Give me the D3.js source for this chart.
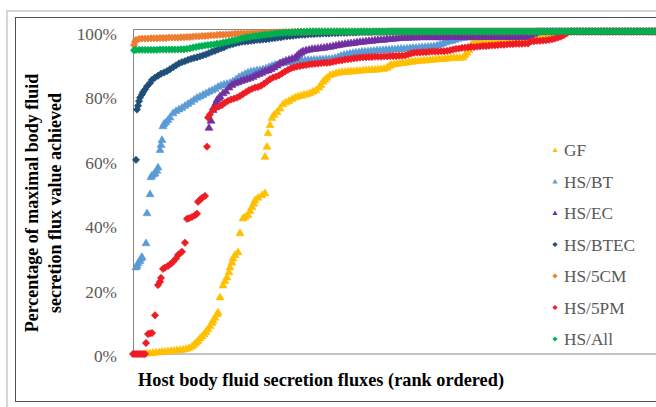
<!DOCTYPE html>
<html><head><meta charset="utf-8">
<script src="https://cdn.jsdelivr.net/npm/d3@7"></script>
<style>html,body{margin:0;padding:0;background:#fff;} svg{display:block;}</style>
</head><body><svg id="c" width="656" height="407"></svg>
<script>
const seriesNames = ["GF","HS/BT","HS/EC","HS/BTEC","HS/5CM","HS/5PM","HS/All"];
const seriesColors = ["#FFC000","#5B9BD5","#7030A0","#1F4E79","#ED7D31","#EE1C25","#00B050"];
const seriesShapes = ["triangle","triangle","triangle","diamond","diamond","diamond","diamond"];
const yTicks = [0,20,40,60,80,100];
const yTitle = ["Percentage of maximal body fluid","secretion flux value achieved"];
const xTitle = "Host body fluid secretion fluxes (rank ordered)";

// [rank, percent]
const gfPts = [[14,0.3],[17,0.4],[20,0.5],[23,0.6],[26,0.7],[29,0.8],[32,0.9],[35,1.0],[38,1.1],[41,1.2],[44,1.3],[47,1.4],[50,1.5],[53,1.7],[56,2.0],[59,2.5],[61,3.0],[63,3.6],[65,4.2],[67,5.0],[69,5.6],[71,6.3],[73,7.0],[75,7.8],[77,8.8],[79,9.8],[80,10.5],[82,11.4],[84,12.5],[85,13.0],[87,17.7],[90,21.4],[92,22.8],[94,23.9],[96,25.5],[97,27.0],[99,28.5],[100,29.8],[102,30.8],[105,31.7],[107,37.6],[110,42.2],[112,42.6],[115,43.2],[117,44.5],[119,45.7],[121,46.8],[122,47.8],[125,48.6],[129,49.4],[132,50.0],[132,61.3],[134,64.4],[135,68.6],[137,71.1],[139,73.3],[141,74.3],[144,75.2],[147,76.3],[150,77.6],[153,78.2],[156,78.6],[159,79.2],[162,79.7],[165,80.0],[168,80.2],[171,80.5],[174,80.7],[177,81.0],[180,81.5],[183,81.9],[186,82.8],[188,83.6],[190,84.6],[192,85.2],[194,85.8],[197,86.6],[200,86.9],[203,87.2],[206,87.4],[209,87.6],[212,87.6],[215,87.7],[218,87.8],[221,87.8],[224,88.0],[227,88.0],[230,88.1],[233,88.2],[236,88.2],[239,88.3],[242,88.3],[245,88.4],[248,88.5],[251,88.6],[254,88.9],[256,89.4],[258,89.8],[261,90.0],[264,90.1],[267,90.3],[270,90.4],[273,90.5],[276,90.7],[279,90.8],[282,90.9],[285,91.0],[288,91.1],[291,91.2],[294,91.2],[297,91.3],[300,91.4],[303,91.5],[306,91.6],[309,91.6],[312,91.7],[315,91.8],[318,91.9],[321,92.0],[324,92.0],[327,92.0],[330,92.1],[332,92.8],[334,93.6],[336,94.4],[338,95.8],[340,96.7],[343,97.0],[346,97.1],[349,97.2],[352,97.3],[355,97.3],[358,97.4],[361,97.4],[364,97.4],[367,97.5],[370,97.5],[373,97.5],[376,97.5],[379,97.5],[382,97.6],[385,97.6],[388,97.6],[391,97.6],[394,97.7],[397,97.8],[400,98.1],[403,98.2],[406,98.3],[409,98.4],[412,98.5],[415,98.7],[418,99.0],[421,99.3],[424,99.7],[427,100],[429,100],[432,100],[435,100],[438,100],[441,100],[444,100],[447,100],[450,100],[453,100],[456,100],[459,100],[462,100],[465,100],[468,100],[471,100],[474,100],[477,100],[480,100],[483,100],[486,100],[489,100],[492,100],[495,100],[498,100],[501,100],[504,100],[507,100],[510,100],[513,100],[516,100],[519,100],[522,100],[525,100]];

const btPts = [[3,27.0],[4,27.5],[5,28.3],[7,29.0],[8,29.8],[9,30.2],[13,34.5],[14,43.8],[17,49.7],[18,55.0],[19,55.5],[21,56.0],[22,56.2],[24,57.0],[25,58.0],[27,63.4],[28,65.0],[29,66.5],[30,70.8],[31,71.5],[33,72.0],[35,72.7],[37,73.5],[40,74.8],[43,75.5],[46,76.0],[49,76.5],[52,77.1],[55,77.7],[58,78.3],[61,79.0],[64,79.6],[67,80.0],[70,80.5],[73,81.0],[76,81.5],[79,81.9],[82,82.4],[85,83.0],[88,83.4],[91,83.7],[94,83.9],[97,84.2],[100,84.7],[103,85.3],[106,86.0],[109,86.5],[112,87.0],[115,87.4],[118,87.7],[121,87.9],[124,88.1],[127,88.2],[130,88.4],[133,88.7],[136,89.1],[139,89.5],[142,89.8],[145,90.0],[148,90.3],[151,90.5],[154,90.6],[157,90.7],[160,90.8],[163,90.9],[166,91.0],[169,91.1],[172,91.2],[175,91.3],[178,91.3],[181,91.4],[184,91.4],[187,91.5],[190,91.5],[193,91.6],[196,91.6],[199,91.7],[202,91.9],[205,92.2],[208,92.6],[211,92.9],[214,93.1],[217,93.3],[220,93.5],[223,93.6],[226,93.7],[229,93.9],[232,93.9],[235,94.0],[238,94.1],[241,94.2],[244,94.3],[247,94.3],[250,94.4],[253,94.5],[256,94.5],[259,94.6],[262,94.6],[265,94.7],[268,94.8],[271,94.8],[274,94.9],[277,95.0],[280,95.1],[283,95.1],[286,95.2],[289,95.3],[292,95.3],[295,95.4],[298,95.5],[301,95.6],[304,95.8],[307,96.1],[310,96.4],[313,96.8],[316,97.1],[319,97.3],[322,97.6],[325,97.9],[328,98.1],[331,98.2],[334,98.3],[337,98.4],[340,98.4],[343,98.4],[346,98.4],[349,98.5],[352,98.5],[355,98.5],[358,98.5],[361,98.5],[364,98.5],[367,98.6],[370,98.6],[373,98.6],[376,98.6],[379,98.6],[382,98.6],[385,98.6],[388,98.7],[391,98.7],[394,98.7],[397,98.8],[400,99.3],[403,99.6],[406,100],[408,100],[411,100],[414,100],[417,100],[420,100],[423,100],[426,100],[429,100],[432,100],[435,100],[438,100],[441,100],[444,100],[447,100],[450,100],[453,100],[456,100],[459,100],[462,100],[465,100],[468,100],[471,100],[474,100],[477,100],[480,100],[483,100],[486,100],[489,100],[492,100],[495,100],[498,100],[501,100],[504,100],[507,100],[510,100],[513,100],[516,100],[519,100],[522,100],[525,100]];

const ecPts = [[76,70.3],[78,72.5],[80,75.8],[81,76.8],[83,78.0],[84,78.9],[86,79.5],[87,80.0],[90,81.0],[93,81.6],[96,82.8],[99,83.6],[102,84.1],[105,84.4],[108,84.8],[111,85.1],[114,85.4],[117,85.7],[120,86.1],[123,86.6],[126,87.0],[129,87.4],[132,87.8],[135,88.1],[138,88.5],[141,89.0],[144,89.6],[147,90.3],[150,90.7],[153,91.1],[156,91.4],[159,91.7],[162,92.0],[164,92.6],[166,93.2],[168,93.6],[170,94.0],[173,94.3],[176,94.5],[179,94.7],[182,94.8],[185,94.9],[188,95.0],[191,95.1],[194,95.3],[197,95.4],[200,95.6],[203,95.8],[206,96.0],[209,96.1],[212,96.3],[215,96.4],[218,96.5],[221,96.6],[224,96.8],[227,96.9],[230,97.0],[233,97.1],[236,97.2],[239,97.3],[242,97.4],[245,97.5],[248,97.6],[251,97.6],[254,97.8],[257,97.8],[260,97.9],[263,98.0],[266,98.1],[269,98.2],[272,98.2],[275,98.2],[278,98.3],[281,98.3],[284,98.3],[287,98.4],[290,98.4],[293,98.4],[296,98.4],[299,98.4],[302,98.4],[305,98.4],[308,98.4],[311,98.4],[314,98.4],[317,98.5],[320,98.5],[323,98.5],[326,98.5],[329,98.5],[332,98.5],[335,98.5],[338,98.5],[341,98.5],[344,98.5],[347,98.5],[350,98.5],[353,98.5],[356,98.5],[359,98.5],[362,98.5],[365,98.5],[368,98.5],[371,98.5],[374,98.5],[377,98.5],[380,98.5],[383,98.5],[386,98.5],[389,98.5],[392,98.5],[395,98.5],[398,99.0],[401,99.5],[404,100],[408,100],[411,100],[414,100],[417,100],[420,100],[423,100],[426,100],[429,100],[432,100],[435,100],[438,100],[441,100],[444,100],[447,100],[450,100],[453,100],[456,100],[459,100],[462,100],[465,100],[468,100],[471,100],[474,100],[477,100],[480,100],[483,100],[486,100],[489,100],[492,100],[495,100],[498,100],[501,100],[504,100],[507,100],[510,100],[513,100],[516,100],[519,100],[522,100],[525,100]];

const btecPts = [[3,60.2],[4,75.8],[5,77.0],[6,78.4],[7,79.5],[9,80.5],[10,81.2],[12,82.0],[14,83.0],[17,84.0],[19,85.0],[22,85.7],[25,86.3],[28,86.9],[31,87.3],[34,87.7],[37,88.3],[40,88.9],[43,89.5],[46,90.1],[49,90.5],[52,90.8],[55,91.2],[58,91.5],[61,91.8],[64,92.0],[67,92.3],[70,92.6],[73,92.9],[76,93.3],[79,93.7],[82,94.0],[85,94.4],[88,94.8],[91,95.1],[94,95.6],[97,95.9],[100,96.1],[103,96.4],[106,96.6],[109,96.8],[112,96.9],[115,97.0],[118,97.1],[121,97.2],[124,97.4],[127,97.4],[130,97.5],[133,97.6],[136,97.7],[139,97.9],[142,98.0],[145,98.1],[148,98.2],[151,98.4],[154,98.5],[157,98.6],[160,98.7],[163,98.8],[166,98.9],[169,99.0],[172,99.0],[175,99.1],[178,99.2],[181,99.2],[184,99.3],[187,99.3],[190,99.4],[193,99.4],[196,99.4],[199,99.5],[202,99.5],[205,99.5],[208,99.6],[211,99.6],[214,99.6],[217,99.7],[220,99.7],[223,99.7],[226,99.8],[229,99.8],[232,99.8],[235,99.8],[238,99.8],[241,99.9],[244,99.9],[247,99.9],[250,99.9],[253,99.9],[256,100],[259,100],[262,100],[265,100],[268,100],[271,100],[274,100],[277,100],[280,100],[283,100],[286,100],[289,100],[292,100],[295,100],[298,100],[301,100],[304,100],[307,100],[310,100],[313,100],[316,100],[319,100],[322,100],[325,100],[328,100],[331,100],[334,100],[337,100],[340,100],[343,100],[346,100],[349,100],[352,100],[355,100],[358,100],[361,100],[364,100],[367,100],[370,100],[373,100],[376,100],[379,100],[382,100],[385,100],[388,100],[391,100],[394,100],[397,100],[400,100],[403,100],[406,100],[409,100],[412,100],[415,100],[418,100],[421,100],[424,100],[427,100],[430,100],[433,100],[436,100],[439,100],[442,100],[445,100],[448,100],[451,100],[454,100],[457,100],[460,100],[463,100],[466,100],[469,100],[472,100],[475,100],[478,100],[481,100],[484,100],[487,100],[490,100],[493,100],[496,100],[499,100],[502,100],[505,100],[508,100],[511,100],[514,100],[517,100],[520,100],[523,100]];

const cmPts = [[1,95.8],[2,96.8],[3,97.4],[6,97.7],[9,97.8],[12,97.8],[15,97.8],[18,97.9],[21,97.9],[24,97.9],[27,98.0],[30,98.0],[33,98.0],[36,98.1],[39,98.1],[42,98.1],[45,98.1],[48,98.2],[51,98.2],[54,98.3],[57,98.3],[60,98.4],[63,98.5],[66,98.5],[69,98.6],[72,98.6],[75,98.7],[78,98.8],[81,98.8],[84,98.9],[87,99.0],[90,99.0],[93,99.1],[96,99.1],[99,99.2],[102,99.3],[105,99.3],[108,99.4],[111,99.4],[114,99.4],[117,99.5],[120,99.5],[123,99.5],[126,99.6],[129,99.6],[132,99.6],[135,99.6],[138,99.7],[141,99.7],[144,99.7],[147,99.8],[150,99.8],[153,99.8],[156,99.8],[159,99.8],[162,99.9],[165,99.9],[168,99.9],[171,99.9],[174,99.9],[177,100],[180,100],[183,100],[186,100],[189,100],[192,100],[195,100],[198,100],[201,100],[204,100],[207,100],[210,100],[213,100],[216,100],[219,100],[222,100],[225,100],[228,100],[231,100],[234,100],[237,100],[240,100],[243,100],[246,100],[249,100],[252,100],[255,100],[258,100],[261,100],[264,100],[267,100],[270,100],[273,100],[276,100],[279,100],[282,100],[285,100],[288,100],[291,100],[294,100],[297,100],[300,100],[303,100],[306,100],[309,100],[312,100],[315,100],[318,100],[321,100],[324,100],[327,100],[330,100],[333,100],[336,100],[339,100],[342,100],[345,100],[348,100],[351,100],[354,100],[357,100],[360,100],[363,100],[366,100],[369,100],[372,100],[375,100],[378,100],[381,100],[384,100],[387,100],[390,100],[393,100],[396,100],[399,100],[402,100],[405,100],[408,100],[411,100],[414,100],[417,100],[420,100],[423,100],[426,100],[429,100],[432,100],[435,100],[438,100],[441,100],[444,100],[447,100],[450,100],[453,100],[456,100],[459,100],[462,100],[465,100],[468,100],[471,100],[474,100],[477,100],[480,100],[483,100],[486,100],[489,100],[492,100],[495,100],[498,100],[501,100],[504,100],[507,100],[510,100],[513,100],[516,100],[519,100],[522,100],[525,100]];

const pmPts = [[0,0],[2,0],[4,0],[6,0],[8,0],[10,0],[12,0],[13,3.4],[15,6.2],[17,6.4],[19,6.5],[22,12.0],[25,21.4],[27,22.4],[28,23.6],[30,26.4],[32,26.8],[35,27.3],[38,28.0],[40,28.6],[43,29.6],[45,30.7],[47,31.2],[49,31.7],[52,34.5],[54,41.9],[56,42.1],[59,42.5],[62,43.0],[64,43.5],[65,47.2],[67,47.8],[69,48.4],[72,49.0],[74,64.3],[75,73.3],[77,74.3],[80,75.8],[83,76.4],[86,76.7],[89,77.2],[92,77.9],[95,78.5],[98,78.9],[101,79.2],[104,79.5],[107,80.0],[110,80.6],[113,81.2],[116,81.8],[119,82.2],[122,82.6],[125,82.8],[128,83.2],[131,83.8],[134,84.5],[137,85.2],[140,85.7],[143,86.0],[146,86.4],[149,87.0],[152,87.6],[155,88.1],[158,88.6],[161,88.9],[164,89.1],[167,89.3],[170,89.5],[173,89.6],[176,89.8],[179,89.9],[182,90.0],[185,90.1],[188,90.2],[191,90.3],[194,90.3],[197,90.4],[200,90.6],[203,90.8],[206,91.0],[209,91.1],[212,91.3],[215,91.4],[218,91.5],[221,91.7],[224,91.8],[227,91.9],[230,92.0],[233,92.0],[236,92.1],[239,92.1],[242,92.2],[245,92.2],[248,92.2],[251,92.3],[254,92.3],[257,92.4],[260,92.4],[263,92.4],[266,92.5],[269,92.5],[272,92.6],[275,92.9],[278,93.2],[281,93.4],[284,93.5],[287,93.5],[290,93.6],[293,93.6],[296,93.7],[299,93.8],[302,93.8],[305,93.8],[308,93.9],[311,93.9],[314,94.0],[317,94.2],[320,94.4],[323,94.6],[326,94.7],[329,94.9],[332,95.0],[335,95.1],[338,95.2],[341,95.2],[344,95.3],[347,95.4],[350,95.5],[353,95.5],[356,95.6],[359,95.7],[362,95.7],[365,95.8],[368,95.9],[371,95.9],[374,96.0],[377,96.1],[380,96.1],[383,96.2],[386,96.2],[389,96.2],[392,96.3],[395,96.3],[398,96.9],[401,97.0],[404,97.1],[407,97.1],[410,97.2],[413,97.3],[416,97.4],[419,97.6],[422,97.8],[425,98.1],[428,98.4],[431,98.9],[434,99.5],[438,100],[441,100],[444,100],[447,100],[450,100],[453,100],[456,100],[459,100],[462,100],[465,100],[468,100],[471,100],[474,100],[477,100],[480,100],[483,100],[486,100],[489,100],[492,100],[495,100],[498,100],[501,100],[504,100],[507,100],[510,100],[513,100],[516,100],[519,100],[522,100],[525,100]];

const allPts = [[1,94.2],[3,94.3],[6,94.3],[9,94.3],[12,94.3],[15,94.3],[18,94.3],[21,94.3],[24,94.3],[27,94.4],[30,94.4],[33,94.4],[36,94.4],[39,94.4],[42,94.4],[45,94.4],[48,94.5],[51,94.5],[54,94.6],[57,94.8],[60,95.0],[63,95.2],[66,95.4],[69,95.5],[72,95.7],[75,95.8],[78,95.9],[81,96.0],[84,96.2],[87,96.3],[90,96.5],[93,96.7],[96,96.9],[99,97.1],[102,97.3],[105,97.5],[108,97.8],[111,98.0],[114,98.2],[117,98.3],[120,98.5],[123,98.6],[126,98.7],[129,98.9],[132,99.0],[135,99.1],[138,99.2],[141,99.3],[144,99.5],[147,99.5],[150,99.6],[153,99.7],[156,99.7],[159,99.8],[162,99.8],[165,99.9],[168,99.9],[171,99.9],[174,100],[177,100],[180,100],[183,100],[186,100],[189,100],[192,100],[195,100],[198,100],[201,100],[204,100],[207,100],[210,100],[213,100],[216,100],[219,100],[222,100],[225,100],[228,100],[231,100],[234,100],[237,100],[240,100],[243,100],[246,100],[249,100],[252,100],[255,100],[258,100],[261,100],[264,100],[267,100],[270,100],[273,100],[276,100],[279,100],[282,100],[285,100],[288,100],[291,100],[294,100],[297,100],[300,100],[303,100],[306,100],[309,100],[312,100],[315,100],[318,100],[321,100],[324,100],[327,100],[330,100],[333,100],[336,100],[339,100],[342,100],[345,100],[348,100],[351,100],[354,100],[357,100],[360,100],[363,100],[366,100],[369,100],[372,100],[375,100],[378,100],[381,100],[384,100],[387,100],[390,100],[393,100],[396,100],[399,100],[402,100],[405,100],[408,100],[411,100],[414,100],[417,100],[420,100],[423,100],[426,100],[429,100],[432,100],[435,100],[438,100],[441,100],[444,100],[447,100],[450,100],[453,100],[456,100],[459,100],[462,100],[465,100],[468,100],[471,100],[474,100],[477,100],[480,100],[483,100],[486,100],[489,100],[492,100],[495,100],[498,100],[501,100],[504,100],[507,100],[510,100],[513,100],[516,100],[519,100],[522,100],[525,100]];

const seriesPts = [gfPts, btPts, ecPts, btecPts, cmPts, pmPts, allPts];

const svg = d3.select("#c");
const serif = "'Liberation Serif','Times New Roman',Times,serif";
const x = d3.scaleLinear().domain([0, 600]).range([133, 733]);
const y = d3.scaleLinear().domain([0, 100]).range([354, 31.5]);

// frames
svg.append("rect").attr("x", 7).attr("y", 11).attr("width", 700).attr("height", 420)
  .attr("fill", "none").attr("stroke", "#c8c8c8").attr("stroke-width", 1.5);
svg.append("rect").attr("x", 15.5).attr("y", 17.5).attr("width", 700).attr("height", 384)
  .attr("fill", "none").attr("stroke", "#505050").attr("stroke-width", 1);
svg.append("rect").attr("x", 133.5).attr("y", 29.5).attr("width", 600).attr("height", 324.5)
  .attr("fill", "none").attr("stroke", "#868686").attr("stroke-width", 1);

// y axis labels
const yAxis = d3.axisLeft(y).tickValues(yTicks).tickSize(0).tickPadding(16).tickFormat(d => d + "%");
const ya = svg.append("g").attr("transform", "translate(133,2)").call(yAxis);
ya.select(".domain").remove();
ya.selectAll("text").attr("font-family", serif).attr("font-size", 17.3).attr("fill", "#595959");

// markers
function shapePath(kind, s) {
  if (kind === "triangle") return `M0,${-s*0.95}L${s},${s*0.75}L${-s},${s*0.75}Z`;
  return `M0,${-s}L${s},0L0,${s}L${-s},0Z`;
}
seriesPts.forEach((pts, i) => {
  const g = svg.append("g").attr("fill", seriesColors[i])
    .attr("stroke", seriesColors[i]).attr("stroke-width", 0.6).attr("stroke-linejoin", "round");
  g.selectAll("path").data(pts).join("path")
    .attr("transform", d => `translate(${x(d[0])},${y(d[1])})`)
    .attr("d", shapePath(seriesShapes[i], seriesShapes[i] === "triangle" ? 4.0 : 3.7));
});

// legend
seriesNames.forEach((n, i) => {
  const cy = 150 + i * 31.5;
  svg.append("path").attr("transform", `translate(555,${cy})`)
    .attr("d", shapePath(seriesShapes[i], 2.6)).attr("fill", seriesColors[i]);
  svg.append("text").attr("x", 564).attr("y", cy).attr("dy", "0.35em")
    .attr("font-family", serif).attr("font-size", 17.3).attr("fill", "#595959").text(n);
});

// titles
svg.append("text").attr("x", 321).attr("y", 386).attr("text-anchor", "middle")
  .attr("font-family", serif).attr("font-size", 18.3).attr("font-weight", "bold").attr("fill", "#000").text(xTitle);
yTitle.forEach((t, i) => {
  svg.append("text").attr("transform", `translate(${32 + i * 23},203) rotate(-90)`)
    .attr("text-anchor", "middle").attr("dy", "0.35em")
    .attr("font-family", serif).attr("font-size", 18).attr("font-weight", "bold").attr("fill", "#000").text(t);
});
</script></body></html>
